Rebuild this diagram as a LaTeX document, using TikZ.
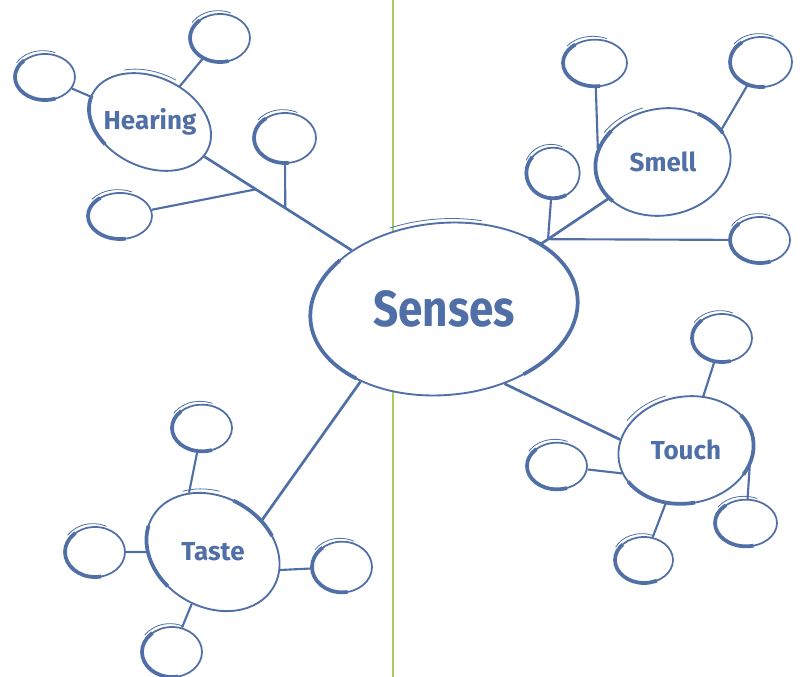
\documentclass[tikz,border=0pt]{standalone}
\usepackage{fontspec}
\setmainfont{Fira Sans}
\newfontfamily\hubfont{Fira Sans}
\newfontfamily\bigfont{Fira Sans}[FakeStretch=0.87]
\usetikzlibrary{shapes.geometric,calc,backgrounds}
\definecolor{inkblue}{RGB}{79,111,166}
\definecolor{rulegreen}{RGB}{166,204,98}
% keep hub labels level inside tilted ellipses
\newcommand{\upright}[2]{\makebox[0pt]{\rotatebox{#1}{#2}}}
\tikzset{
	hub/.style={ellipse, draw=inkblue, fill=white, line width=1.4pt, inner sep=0pt,
		text=inkblue, font={\hubfont\bfseries\fontsize{19.5pt}{20pt}\selectfont}},
	leaf/.style={ellipse, draw=inkblue, fill=white, line width=1.3pt, inner sep=0pt,
		minimum width=45pt, minimum height=36pt,
		heavy=on 0pt off 48pt on 54pt off 300pt,
		stray=on 0pt off 22pt on 32pt off 300pt at {(-1.5pt,2.5pt)}},
	heavy/.style={postaction={draw=inkblue, line width=2.8pt, dash pattern=#1}},
	stray/.style args={#1 at #2}{postaction={draw=inkblue, line width=0.6pt,
		dash pattern=#1, transform canvas={shift={#2}}}},
	link/.style={draw=inkblue, line width=1.6pt},
	trunk/.style={draw=inkblue, line width=2pt},
}
\begin{document}
\begin{tikzpicture}[x=0.75pt, y=-0.75pt]
	\useasboundingbox (0,0) rectangle (800,677);

	% centre
	\node[hub, rotate=5, minimum width=201pt, minimum height=129pt,
		font={\bigfont\bfseries\fontsize{38pt}{40pt}\selectfont},
		heavy=on 60pt off 150pt on 110pt off 130pt on 80pt,
		stray=on 0pt off 95pt on 70pt off 600pt at {(-2pt,3pt)}]
		(senses) at (444,309) {\upright{-5}{Senses}};

	% the four hubs
	\node[hub, rotate=-25, minimum width=96pt, minimum height=66pt,
		heavy=on 0pt off 130pt on 40pt off 300pt,
		stray=on 0pt off 60pt on 40pt off 300pt at {(1pt,3pt)}]
		(hearing) at (150,122) {\upright{25}{Hearing}};
	\node[hub, rotate=10, minimum width=102pt, minimum height=80pt,
		heavy=on 0pt off 14pt on 24pt off 70pt on 60pt off 300pt,
		stray=on 0pt off 78pt on 35pt off 300pt at {(-2pt,2.5pt)}]
		(smell) at (663,162) {\upright{-10}{Smell}};
	\node[hub, rotate=10, minimum width=102pt, minimum height=80pt,
		heavy=on 20pt off 140pt on 55pt off 43pt on 30pt,
		stray=on 0pt off 78pt on 35pt off 300pt at {(-2pt,2.5pt)}]
		(touch) at (686,450) {\upright{-10}{Touch}};
	\node[hub, rotate=-30, minimum width=105pt, minimum height=82.5pt,
		heavy=on 0pt off 40pt on 40pt off 75pt on 50pt off 300pt,
		stray=on 0pt off 92pt on 28pt off 300pt at {(1pt,3pt)}]
		(taste) at (213,552) {\upright{30}{Taste}};

	% hearing leaves
	\node[leaf, minimum height=34.5pt] (hearA) at (45,77) {};
	\node[leaf] (hearB) at (220,38) {};
	\node[leaf, minimum width=46.5pt, minimum height=37.5pt] (hearC) at (285,138) {};
	\node[leaf, minimum width=48pt, minimum height=34.5pt] (hearD) at (120,216) {};

	% smell leaves
	\node[leaf, minimum width=48pt, minimum height=35pt] (smellA) at (595,63) {};
	\node[leaf, minimum width=46.5pt, minimum height=37.5pt] (smellB) at (761,62) {};
	\node[leaf, minimum width=40pt, minimum height=38pt] (smellC) at (553,173) {};
	\node[leaf, minimum height=34.5pt] (smellD) at (760,240) {};

	% touch leaves
	\node[leaf] (touchA) at (722,338) {};
	\node[leaf, minimum height=35pt] (touchB) at (557,466) {};
	\node[leaf, minimum width=43.5pt, minimum height=34.5pt] (touchC) at (644,560) {};
	\node[leaf, minimum width=46.5pt, minimum height=35pt] (touchD) at (746,523) {};

	% taste leaves
	\node[leaf, minimum height=35pt] (tasteA) at (202,428) {};
	\node[leaf, minimum height=37.5pt] (tasteB) at (95,552) {};
	\node[leaf, minimum height=38pt] (tasteC) at (342,567) {};
	\node[leaf, minimum height=37.5pt] (tasteD) at (172,652) {};

	% branch points
	\coordinate (hearJ1) at ($(hearing)!0.36!(senses)$);
	\coordinate (hearJ2) at ($(hearing)!0.46!(senses)$);
	\coordinate (smellJ) at ($(smell)!0.525!(senses)$);
	\coordinate (railtop) at (393,0);
	\coordinate (railbot) at (393,677);

	\begin{scope}[on background layer]
		\draw[rulegreen, line width=1.5pt] (railtop) -- (railbot);

		\draw[trunk] (hearing) -- (senses);
		\draw[link] (hearA) -- (hearing);
		\draw[link] (hearB) -- (hearing);
		\draw[link] (hearC) -- (hearJ2);
		\draw[link] (hearD) -- (hearJ1);

		\draw[trunk] (smell) -- (smellJ) -- (senses);
		\draw[link] (smellA) -- (smell.159);
		\draw[link] (smellB) -- (smell.19);
		\draw[link] (smellC) -- (smellJ);
		\draw[link] (smellD) -- (smellJ);

		\draw[trunk] (senses.-56) -- (touch.161);
		\draw[link] (touchA) -- (touch);
		\draw[link] (touchB) -- (touch.190);
		\draw[link] (touchC) -- (touch);
		\draw[link] (touchD) -- (touch.-24);

		\draw[trunk] (taste.63) -- (senses.216);
		\draw[link] (tasteA) -- (taste.142);
		\draw[link] (tasteB) -- (taste);
		\draw[link] (tasteC) -- (taste.15);
		\draw[link] (tasteD) -- (taste);
	\end{scope}
\end{tikzpicture}
\end{document}
